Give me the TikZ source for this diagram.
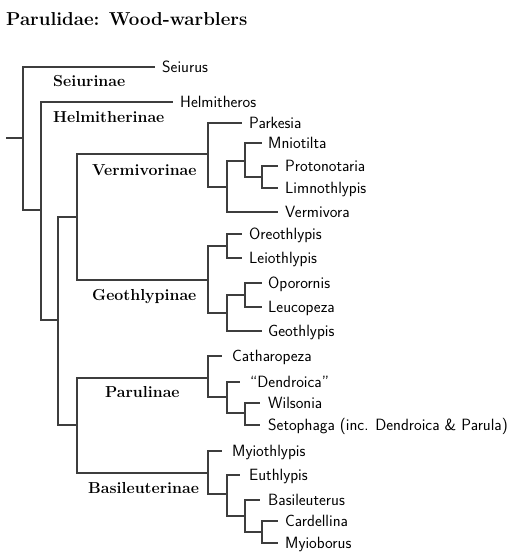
\documentclass[tikz,border=0pt]{standalone}
\usepackage{fontspec}
\begin{document}
\begin{tikzpicture}[
 x=1pt, y=-1pt,
 br/.style={draw=black!76, line width=1.6pt},
 leaf/.style={anchor=west, inner xsep=7pt, inner ysep=0pt, text height=11.5pt, text depth=0.5pt, font=\sffamily\fontsize{16.3}{18}\selectfont},
 sub/.style={anchor=base west, inner sep=0pt, font=\bfseries\fontsize{15.9}{18}\selectfont},
 ttl/.style={anchor=base west, inner sep=0pt, font=\bfseries\fontsize{18.7}{22}\selectfont}
]
\useasboundingbox (0,0) rectangle (515,555);
\node[ttl] (title) at (6,25) {Parulidae: Wood-warblers};

% internal nodes
\coordinate (stub) at (6,138);
\coordinate (R) at (23,138);
\coordinate (H) at (41,210);
\coordinate (P1) at (58,320);
\coordinate (A) at (77,217);
\coordinate (B) at (77,425);
\coordinate (Verm) at (208,154);
\coordinate (Geo) at (208,280);
\coordinate (Paru) at (208,378);
\coordinate (Basi) at (208,473);
\coordinate (v1) at (227,187);
\coordinate (v2) at (245,161);
\coordinate (v3) at (262,177);
\coordinate (g1) at (227,246);
\coordinate (g2) at (227,313);
\coordinate (g3) at (245,295);
\coordinate (p1) at (227,397);
\coordinate (p2) at (245,413);
\coordinate (b1) at (227,494);
\coordinate (b2) at (245,516);
\coordinate (b3) at (262,532);

% leaves
\node[leaf] (seiurus) at (155,67) {Seiurus};
\node[leaf] (helmitheros) at (173,102) {Helmitheros};
\node[leaf] (parkesia) at (242,123) {Parkesia};
\node[leaf, inner xsep=6pt] (mniotilta) at (262,143) {Mniotilta};
\node[leaf] (protonotaria) at (278,166) {Protonotaria};
\node[leaf] (limnothlypis) at (278,188) {Limnothlypis};
\node[leaf] (vermivora) at (278,212) {Vermivora};
\node[leaf] (oreothlypis) at (242,234) {Oreothlypis};
\node[leaf] (leiothlypis) at (242,258) {Leiothlypis};
\node[leaf, inner xsep=6pt] (oporornis) at (262,283) {Oporornis};
\node[leaf, inner xsep=6pt] (leucopeza) at (262,307) {Leucopeza};
\node[leaf, inner xsep=6pt] (geothlypis) at (262,331) {Geothlypis};
\node[leaf, inner xsep=10pt] (catharopeza) at (222,356) {Catharopeza};
\node[leaf, inner xsep=10pt] (dendroica) at (240,382) {``Dendroica''};
\node[leaf, inner xsep=8pt] (wilsonia) at (260,403) {Wilsonia};
\node[leaf, inner xsep=8pt] (setophaga) at (260,425) {Setophaga (inc. Dendroica \& Parula)};
\node[leaf, inner xsep=10pt] (myiothlypis) at (222,451) {Myiothlypis};
\node[leaf, inner xsep=9pt] (euthlypis) at (240,475) {Euthlypis};
\node[leaf, inner xsep=8pt] (basileuterus) at (260,500) {Basileuterus};
\node[leaf] (cardellina) at (278,521) {Cardellina};
\node[leaf] (myioborus) at (278,543) {Myioborus};

% subfamily labels
\node[sub] (lseiurinae) at (53,86) {Seiurinae};
\node[sub] (lhelmitherinae) at (53,122) {Helmitherinae};
\node[sub] (lvermivorinae) at (92,175) {Vermivorinae};
\node[sub] (lgeothlypinae) at (92,300) {Geothlypinae};
\node[sub] (lparulinae) at (105,397) {Parulinae};
\node[sub] (lbasileuterinae) at (88,493) {Basileuterinae};

% branches
\draw[br] (stub) -- (R);
\draw[br] (R) |- (seiurus.west);
\draw[br] (R) |- (H);
\draw[br] (H) |- (helmitheros.west);
\draw[br] (H) |- (P1);
\draw[br] (P1) |- (A);
\draw[br] (P1) |- (B);
\draw[br] (A) |- (Verm);
\draw[br] (A) |- (Geo);
\draw[br] (B) |- (Paru);
\draw[br] (B) |- (Basi);
\draw[br] (Verm) |- (parkesia.west);
\draw[br] (Verm) |- (v1);
\draw[br] (v1) |- (v2);
\draw[br] (v1) |- (vermivora.west);
\draw[br] (v2) |- (mniotilta.west);
\draw[br] (v2) |- (v3);
\draw[br] (v3) |- (protonotaria.west);
\draw[br] (v3) |- (limnothlypis.west);
\draw[br] (Geo) |- (g1);
\draw[br] (Geo) |- (g2);
\draw[br] (g1) |- (oreothlypis.west);
\draw[br] (g1) |- (leiothlypis.west);
\draw[br] (g2) |- (g3);
\draw[br] (g2) |- (geothlypis.west);
\draw[br] (g3) |- (oporornis.west);
\draw[br] (g3) |- (leucopeza.west);
\draw[br] (Paru) |- (catharopeza.west);
\draw[br] (Paru) |- (p1);
\draw[br] (p1) |- (dendroica.west);
\draw[br] (p1) |- (p2);
\draw[br] (p2) |- (wilsonia.west);
\draw[br] (p2) |- (setophaga.west);
\draw[br] (Basi) |- (myiothlypis.west);
\draw[br] (Basi) |- (b1);
\draw[br] (b1) |- (euthlypis.west);
\draw[br] (b1) |- (b2);
\draw[br] (b2) |- (basileuterus.west);
\draw[br] (b2) |- (b3);
\draw[br] (b3) |- (cardellina.west);
\draw[br] (b3) |- (myioborus.west);
\end{tikzpicture}
\end{document}
